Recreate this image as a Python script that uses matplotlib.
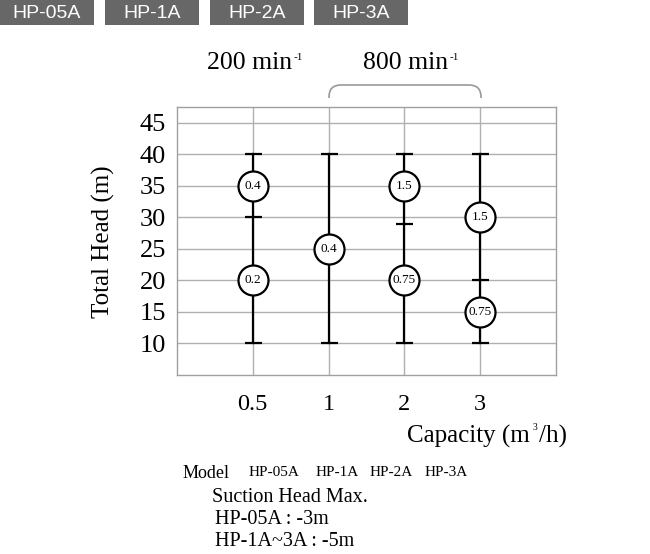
import matplotlib
matplotlib.use("Agg")
import matplotlib.pyplot as plt
from matplotlib.patches import Rectangle, PathPatch
from matplotlib.path import Path

# ---- data ----
models = ["HP-05A", "HP-1A", "HP-2A", "HP-3A"]
capacity_labels = ["0.5", "1", "2", "3"]
head_min = [10, 10, 10, 10]
head_max = [40, 40, 40, 40]
mid_caps = [30, None, 29, 20]
circle_pos = [0, 0, 1, 2, 2, 3, 3]
circle_head = [35, 20, 25, 35, 20, 30, 15]
circle_kw = ["0.4", "0.2", "0.4", "1.5", "0.75", "1.5", "0.75"]
y_ticks = [10, 15, 20, 25, 30, 35, 40, 45]
speeds = ["200 min", "800 min"]

W, H = 650, 554
fig = plt.figure(figsize=(W / 100, H / 100), dpi=100)
serif = "Liberation Serif"
renderer = fig.canvas.get_renderer()

def fx(px):
    return px / W

def fy(py):
    return 1 - py / H

def right_px(txt):
    bb = txt.get_window_extent(renderer=renderer)
    return bb.x1

ax = fig.add_axes([fx(177), fy(375), fx(556) - fx(177), fy(107) - fy(375)])
xs = list(range(1, len(capacity_labels) + 1))
ax.set_xlim(0, len(capacity_labels) + 1)
ax.set_ylim(5, 47.5)
ax.set_xticks(xs)
ax.set_xticklabels(capacity_labels, fontfamily=serif, fontsize=17.5)
ax.set_yticks(y_ticks)
ax.set_yticklabels([str(v) for v in y_ticks], fontfamily=serif, fontsize=19)
ax.tick_params(length=0, pad=8)
ax.tick_params(axis="x", pad=14)
ax.grid(True, color="#b0b0b0", linewidth=1)
ax.set_axisbelow(True)
for s in ax.spines.values():
    s.set_color("#a0a0a0")
    s.set_linewidth(1)

cap = 17 / 2 * 72 / 100
for i, x in enumerate(xs):
    ax.plot([x, x], [head_min[i], head_max[i]], color="black", lw=1.6, zorder=3)
    ys = [head_min[i], head_max[i]] + ([mid_caps[i]] if mid_caps[i] is not None else [])
    ax.plot([x] * len(ys), ys, linestyle="none", marker="_",
            markersize=2 * cap, markeredgewidth=1.6, color="black", zorder=3)

cx = [xs[p] for p in circle_pos]
ax.scatter(cx, circle_head, s=(30 * 72 / 100) ** 2, facecolor="white",
           edgecolor="black", linewidth=1.6, zorder=4)
for x, y, t in zip(cx, circle_head, circle_kw):
    ax.text(x, y, t, ha="center", va="center", fontfamily=serif, fontsize=9.5, zorder=5)

fig.text(fx(103), fy(242), "Total Head (m)", rotation=90, ha="center", va="center",
         fontfamily=serif, fontsize=18)

# capacity label with superscript
t1 = fig.text(fx(407), fy(436), "Capacity (m", ha="left", va="center",
              fontfamily=serif, fontsize=18)
x1 = right_px(t1)
fig.text((x1 + 3) / W, fy(428), "3", ha="left", va="center", fontfamily=serif, fontsize=7)
fig.text((x1 + 9) / W, fy(436), "/h)", ha="left", va="center", fontfamily=serif, fontsize=18)

# header boxes
box_x = [0, 105, 210, 314]
for bx, m in zip(box_x, models):
    fig.patches.append(Rectangle((fx(bx), fy(25)), fx(94), fy(0) - fy(25),
                                 transform=fig.transFigure, facecolor="#676767",
                                 edgecolor="none"))
    fig.text(fx(bx + 47), fy(13), m, ha="center", va="center", color="white",
             fontfamily="Liberation Sans", fontsize=14)

# speed labels
for px, s in zip([207, 363], speeds):
    t = fig.text(fx(px), fy(63), s, ha="left", va="center", fontfamily=serif, fontsize=18.5)
    xr = right_px(t)
    fig.text((xr + 1) / W, fy(57), "-1", ha="left", va="center", fontfamily=serif, fontsize=8)

# bracket
l, r, t, b, rad = 329, 481, 85, 98, 12
verts = [(l, b), (l, t + rad), (l, t), (l + rad, t), (r - rad, t), (r, t), (r, t + rad), (r, b)]
codes = [Path.MOVETO, Path.LINETO, Path.CURVE3, Path.CURVE3, Path.LINETO,
         Path.CURVE3, Path.CURVE3, Path.LINETO]
verts = [(fx(a), fy(c)) for a, c in verts]
fig.patches.append(PathPatch(Path(verts, codes), transform=fig.transFigure,
                             facecolor="none", edgecolor="#999999", lw=1.2))

# model row
fig.text(fx(183), fy(473), "Model", ha="left", va="center", fontfamily=serif, fontsize=13)
for px, m in zip([249, 316, 370, 425], models):
    fig.text(fx(px), fy(473), m, ha="left", va="center", fontfamily=serif, fontsize=11)

fig.text(fx(212), fy(497), "Suction Head Max.", ha="left", va="center",
         fontfamily=serif, fontsize=14.5)
fig.text(fx(215), fy(520), "HP-05A : -3m", ha="left", va="center",
         fontfamily=serif, fontsize=14.5)
fig.text(fx(215), fy(541), "HP-1A~3A : -5m", ha="left", va="center",
         fontfamily=serif, fontsize=14.5)

fig.savefig("out.png", dpi=100)
